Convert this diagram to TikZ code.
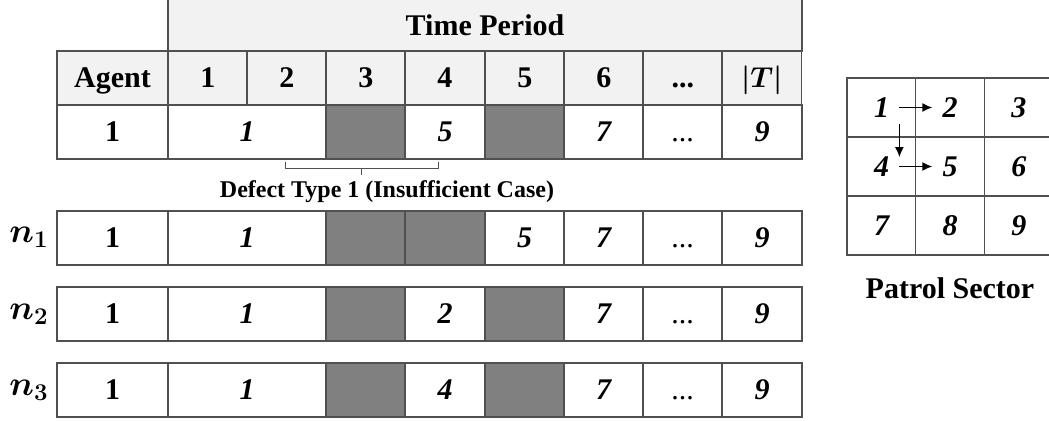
\documentclass[tikz,border=0pt]{standalone}
\usepackage{amsmath,bm}
\usepackage{fontspec}
\setmainfont{Liberation Serif}
\usepackage{tikz}
\usetikzlibrary{arrows.meta}
\definecolor{gridline}{RGB}{80,80,80}
\definecolor{hdrgray}{RGB}{242,242,242}
\definecolor{offgray}{RGB}{128,128,128}
\newcommand{\celldots}{...}
\tikzset{
  cell/.style={draw=gridline, line width=0.75pt, fill=white},
  hdr/.style={draw=gridline, line width=0.75pt, fill=hdrgray},
  dark/.style={draw=gridline, line width=0.75pt, fill=offgray},
  lbl/.style={font=\fontsize{15}{18}\selectfont\bfseries, text height=10pt, text depth=0pt},
  val/.style={font=\fontsize{15}{18}\selectfont\bfseries\itshape, text height=10pt, text depth=0pt},
  dotval/.style={font=\fontsize{15}{18}\selectfont, text height=10pt, text depth=0pt},
  arr/.style={-{Latex[length=5pt,width=4.5pt]}, line width=0.75pt},
}

\begin{document}
\begin{tikzpicture}[x=0.5pt,y=-0.5pt]
  \useasboundingbox (0,0) rectangle (1049,421);
  % header
  \draw[hdr] (168,-10) rectangle (802,51);
  \node[lbl] (tp) at (485,26) {Time Period};
  \draw[hdr] (57,51) rectangle (168,105);
  \node[lbl] (agent) at (112.5,78) {Agent};
  \foreach \x/\t [count=\i] in {168/1, 247/2, 326/3, 405/4, 485/5, 564/6, 643/\celldots, 722/{$\bm{|T|}$}} {
    \draw[hdr] (\x,51) rectangle (\x+79.5,105);
    \node[lbl] (h\i) at (\x+39.75,78) {\t};
  }
  % agent rows, common cells
  \foreach \y/\r in {105/a, 211/b, 287/c, 363/d} {
    \draw[cell] (57,\y) rectangle (168,\y+54);
    \node[lbl] (ag-\r) at (112.5,\y+27) {1};
    \draw[cell] (168,\y) rectangle (326,\y+54);
    \node[val] (s1-\r) at (247,\y+27) {1};
    \draw[cell] (564,\y) rectangle (643,\y+54);
    \node[val] (s7-\r) at (603.5,\y+27) {7};
    \draw[cell] (643,\y) rectangle (722,\y+54);
    \node[dotval] (dt-\r) at (682.5,\y+27) {\celldots};
    \draw[cell] (722,\y) rectangle (802,\y+54);
    \node[val] (s9-\r) at (762,\y+27) {9};
  }
  % row 1
  \draw[dark] (326,105) rectangle (405,159);
  \draw[cell] (405,105) rectangle (485,159);
  \node[val] (s5-a) at (445,132) {5};
  \draw[dark] (485,105) rectangle (564,159);
  % n1
  \draw[dark] (326,211) rectangle (405,265);
  \draw[dark] (405,211) rectangle (485,265);
  \draw[cell] (485,211) rectangle (564,265);
  \node[val] (s5-b) at (524.5,238) {5};
  % n2
  \draw[dark] (326,287) rectangle (405,341);
  \draw[cell] (405,287) rectangle (485,341);
  \node[val] (s2-c) at (445,314) {2};
  \draw[dark] (485,287) rectangle (564,341);
  % n3
  \draw[dark] (326,363) rectangle (405,417);
  \draw[cell] (405,363) rectangle (485,417);
  \node[val] (s4-d) at (445,390) {4};
  \draw[dark] (485,363) rectangle (564,417);
  % row names
  \node[font=\fontsize{16.5}{19}\selectfont] (n1) at (29,237) {$\bm{n_1}$};
  \node[font=\fontsize{16.5}{19}\selectfont] (n2) at (29,314) {$\bm{n_2}$};
  \node[font=\fontsize{16.5}{19}\selectfont] (n3) at (29,390) {$\bm{n_3}$};
  % defect brace
  \draw[gridline, line width=0.5pt] (285,162) -- (285,169) -- (438,169) -- (438,162)
    (361,169) -- (361,175);
  \node[font=\fontsize{12}{14}\selectfont\bfseries] (defect) at (387,192)
    {Defect Type 1 (Insufficient Case)};
  % patrol sector
  \foreach \c/\d [count=\k] in {0/0, 1/0, 2/0, 0/1, 1/1, 2/1, 0/2, 1/2, 2/2} {
    \draw[cell] (847+68.7*\c,78+59*\d) rectangle (847+68.7*\c+68.7,78+59*\d+59);
    \node[val, inner xsep=5pt, inner ysep=3pt] (p\k) at (881.5+68.7*\c,107.5+59*\d) {\k};
  }
  \draw[arr] (p1.east) -- (p2.west);
  \draw[arr, shorten >=-3.5pt] (p1.south east) -- (p4.north east);
  \draw[arr] (p4.east) -- (p5.west);
  \node[lbl] (sector) at (950,289) {Patrol Sector};
\end{tikzpicture}
\end{document}
